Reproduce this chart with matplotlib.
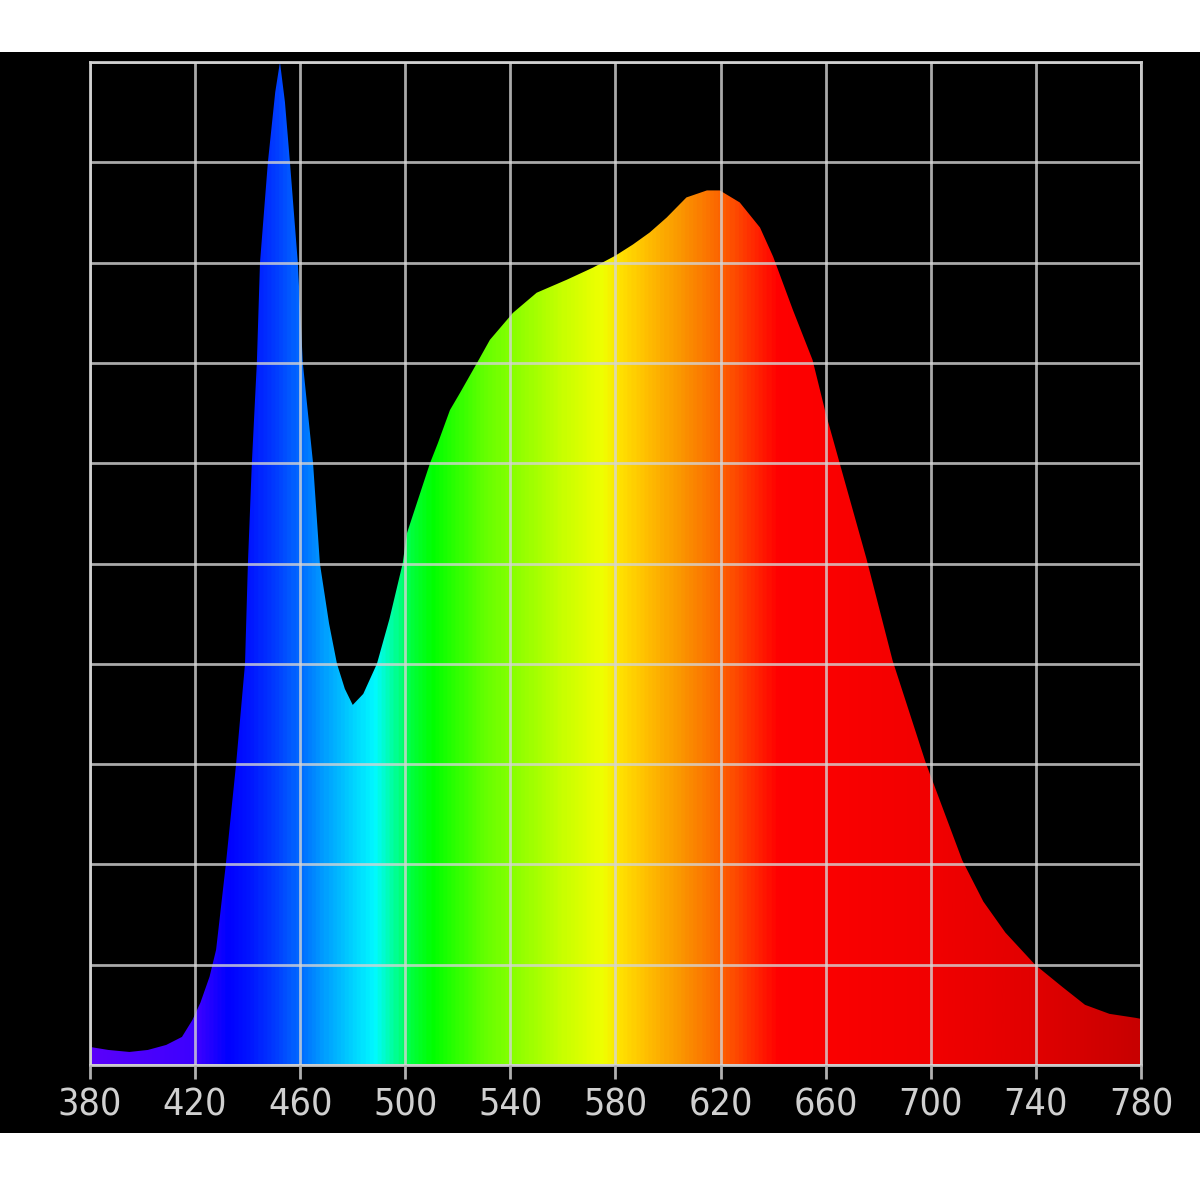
import numpy as np
import matplotlib.pyplot as plt
from matplotlib.colors import LinearSegmentedColormap

# spectrum: wavelength (nm) and relative intensity (%)
wavelength = [380, 387, 395, 402, 409, 415, 419, 422, 425.5, 428, 431.7, 435.6,
              439, 440.1, 441.6, 443.5, 444.7, 447.7, 450.5, 452.3, 454.2, 456.1,
              459.1, 461, 464.9, 467.5, 471, 474, 477, 480, 484, 489.2, 494,
              499, 500.6, 505, 509.4, 512.4, 517, 520.8, 527.3, 532.2, 541, 550,
              561.5, 571.4, 580, 586.6, 593, 599.5, 607, 614.8, 619.7, 627.3,
              635, 640, 647.5, 655, 660, 666.4, 675.5, 685.5, 698, 712, 720,
              728.4, 739.7, 750, 758.7, 768, 778, 780]
intensity = [1.8, 1.5, 1.3, 1.5, 2.0, 2.8, 4.5, 6.2, 8.8, 11.5, 20, 30,
             40, 50, 60, 70, 80, 90, 97, 100, 96, 90,
             80, 70, 60, 50, 44, 40, 37.5, 35.9, 37, 40, 44.5,
             50, 53, 56.5, 60, 62, 65.3, 67, 70, 72.3, 75, 77,
             78.3, 79.5, 80.7, 81.8, 83, 84.5, 86.5, 87.2, 87.2, 86,
             83.5, 80.6, 75.3, 70.3, 65, 59, 50.5, 40.3, 30.2, 20.4, 16.3,
             13.2, 10, 7.8, 6, 5.1, 4.7, 4.6]

tick_values = [380, 420, 460, 500, 540, 580, 620, 660, 700, 740, 780]

# colour of the fill along the spectrum
color_nm = [380, 420, 432, 440, 450, 460, 470, 488, 495, 502, 510, 530, 560,
            575, 582, 592, 605, 620, 632, 642, 700, 740, 780]
color_rgb = [(90, 0, 250), (60, 0, 255), (0, 0, 255), (0, 20, 255), (0, 60, 255),
             (0, 110, 255), (0, 165, 255), (0, 250, 255), (0, 255, 160),
             (0, 255, 60), (0, 255, 0), (100, 255, 0), (200, 255, 0),
             (240, 255, 0), (255, 225, 0), (255, 190, 0), (250, 150, 0),
             (252, 100, 0), (255, 45, 0), (255, 0, 0), (242, 0, 0), (225, 0, 0),
             (200, 0, 0)]

lo, hi = tick_values[0], tick_values[-1]
stops = [((n - lo) / (hi - lo), tuple(c / 255 for c in rgb))
         for n, rgb in zip(color_nm, color_rgb)]
spectrum = LinearSegmentedColormap.from_list('spectrum', stops)

fig = plt.figure(figsize=(12, 12), dpi=100, facecolor='white')

# black panel behind the plot
back = fig.add_axes([0, 0.0558, 1, 0.9009])
back.set_facecolor('black')
back.set_xticks([])
back.set_yticks([])
for side in back.spines.values():
    side.set_visible(False)

ax = fig.add_axes([0.075, 0.1125, 0.8758, 0.8358])
ax.set_facecolor('black')

poly = ax.fill_between(wavelength, intensity, 0, color='none', lw=0)
grad = np.linspace(lo, hi, 800).reshape(1, -1)
img = ax.imshow(grad, cmap=spectrum, vmin=lo, vmax=hi, aspect='auto',
                extent=[lo, hi, 0, 100], origin='lower', zorder=1,
                interpolation='bilinear')
img.set_clip_path(poly.get_paths()[0], transform=ax.transData)

ax.set_xlim(lo, hi)
ax.set_ylim(0, 100)
ax.set_xticks(tick_values)
ax.set_yticks(np.arange(0, 101, 10))
ax.set_yticklabels([])
ax.grid(True, color='#d4d4d4', alpha=0.8, linewidth=2.0, zorder=3)
ax.set_axisbelow(False)
for side in ax.spines.values():
    side.set_color('#c8c8c8')
    side.set_linewidth(2.0)
ax.tick_params(axis='y', length=0)
ax.tick_params(axis='x', direction='out', length=10, width=2, color='#b0b0b0',
               labelcolor='#d0d0d0', pad=6)
for lab in ax.get_xticklabels():
    lab.set_family('DejaVu Sans')
    lab.set_stretch('condensed')
    lab.set_fontsize(27)

fig.savefig('out.png', dpi=100, facecolor='white')
